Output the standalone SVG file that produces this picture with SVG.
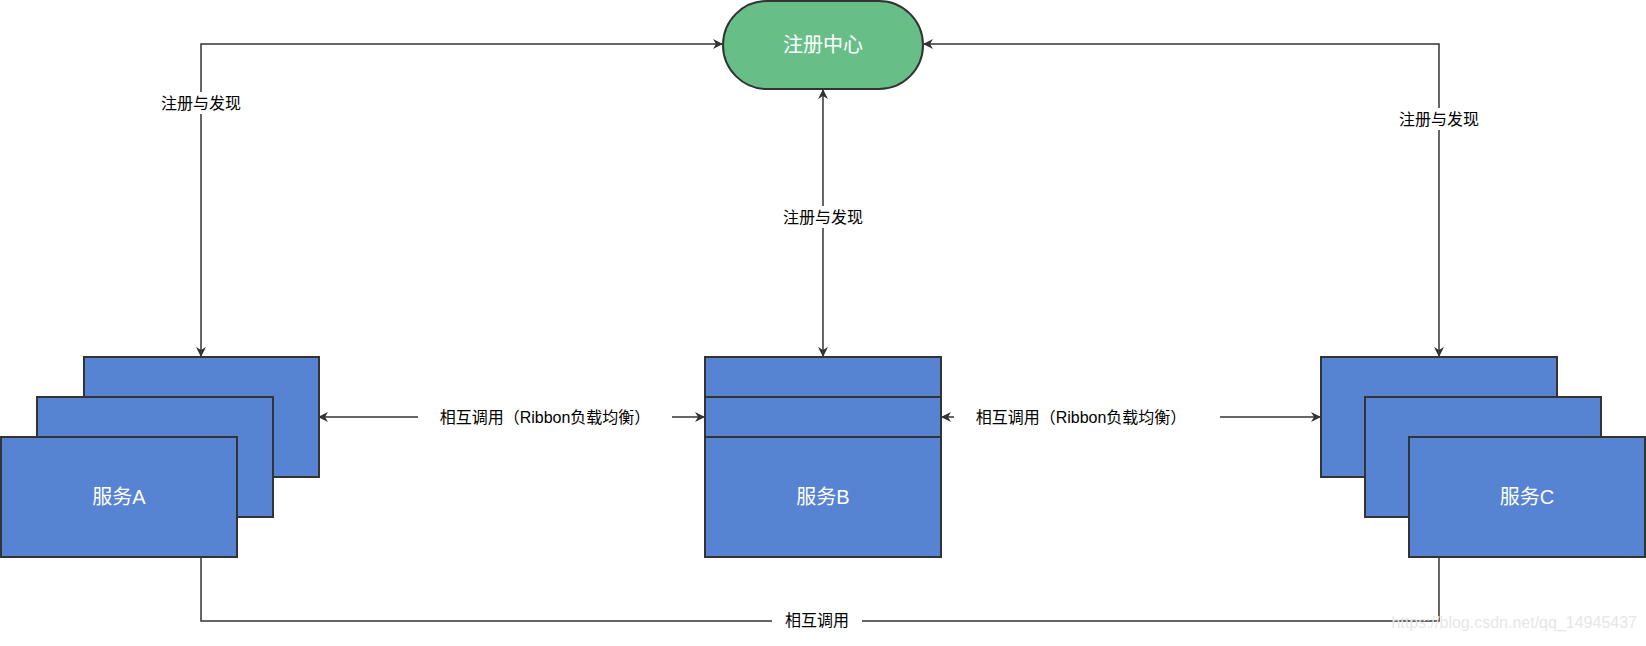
<svg xmlns="http://www.w3.org/2000/svg" width="1646" height="646" viewBox="0 0 1646 646">
<style>
.box{fill:#5683D2;stroke:#333;stroke-width:2}
.nt{fill:#fff;font-family:"Liberation Sans","Noto Sans CJK SC",sans-serif;font-size:20px;text-anchor:middle;dominant-baseline:central}
.ln{fill:none;stroke:#333;stroke-width:1.5}
.lb{fill:#000;font-family:"Liberation Sans","Noto Sans CJK SC",sans-serif;font-size:16px;text-anchor:middle;dominant-baseline:central}
.bg{fill:#fff}
</style>
<defs>
<marker id="ah" viewBox="0 0 10 10" refX="9" refY="5" markerWidth="10" markerHeight="10" markerUnits="userSpaceOnUse" orient="auto-start-reverse">
<path d="M0,0 L10,5 L0,10 L3,5 Z" fill="#333"/>
</marker>
</defs>
<g id="connectors">
<path class="ln" d="M201,356 V44 H722" marker-start="url(#ah)" marker-end="url(#ah)"/>
<path class="ln" d="M823,90 V356" marker-start="url(#ah)" marker-end="url(#ah)"/>
<path class="ln" d="M1439,356 V44 H924" marker-start="url(#ah)" marker-end="url(#ah)"/>
<path class="ln" d="M319,417 H704" marker-start="url(#ah)" marker-end="url(#ah)"/>
<path class="ln" d="M942,417 H1320" marker-start="url(#ah)" marker-end="url(#ah)"/>
<path class="ln" d="M201,557 V621 H1439 V557"/>
<rect class="bg" x="150" y="92" width="102" height="22"/>
<text class="lb" x="201" y="103">注册与发现</text>
<rect class="bg" x="772" y="206" width="102" height="22"/>
<text class="lb" x="823" y="217">注册与发现</text>
<rect class="bg" x="1388" y="108" width="102" height="22"/>
<text class="lb" x="1439" y="119">注册与发现</text>
<rect class="bg" x="418" y="406" width="254" height="22"/>
<text class="lb" x="545" y="417">相互调用（Ribbon负载均衡）</text>
<rect class="bg" x="954" y="406" width="266" height="22"/>
<text class="lb" x="1081" y="417">相互调用（Ribbon负载均衡）</text>
<rect class="bg" x="772" y="610" width="90" height="22"/>
<text class="lb" x="817" y="620">相互调用</text>
</g>
<g id="registry">
<rect x="723" y="1" width="200" height="88" rx="44" fill="#67BF87" stroke="#333" stroke-width="2"/>
<text class="nt" x="823" y="45">注册中心</text>
</g>
<g id="serviceA">
<rect class="box" x="84" y="357" width="235" height="120"/>
<rect class="box" x="37" y="397" width="236" height="120"/>
<rect class="box" x="1" y="437" width="236" height="120"/>
<text class="nt" x="119" y="497">服务A</text>
</g>
<g id="serviceB">
<rect class="box" x="705" y="357" width="236" height="200"/>
<line x1="705" y1="397" x2="941" y2="397" stroke="#333" stroke-width="2"/>
<line x1="705" y1="437" x2="941" y2="437" stroke="#333" stroke-width="2"/>
<text class="nt" x="823" y="497">服务B</text>
</g>
<g id="serviceC">
<rect class="box" x="1321" y="357" width="236" height="120"/>
<rect class="box" x="1365" y="397" width="236" height="120"/>
<rect class="box" x="1409" y="437" width="236" height="120"/>
<text class="nt" x="1527" y="497">服务C</text>
</g>
<text x="1637" y="628" font-family="Liberation Sans,sans-serif" font-size="16" fill="#e6e6e6" text-anchor="end">https://blog.csdn.net/qq_14945437</text>
</svg>
